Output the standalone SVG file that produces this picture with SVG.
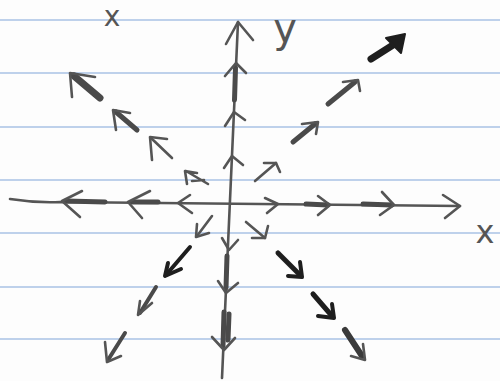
<svg xmlns="http://www.w3.org/2000/svg" width="500" height="381" viewBox="0 0 500 381">
<style>
.rule{stroke:#a8c2e4;stroke-width:1.6}
.pen{fill:none;stroke:#555;stroke-width:2.6;stroke-linecap:round;stroke-linejoin:round}
.thick{fill:none;stroke:#4a4a4a;stroke-width:5;stroke-linecap:round}
.ink{fill:none;stroke:#1e1e1e;stroke-width:4;stroke-linecap:round;stroke-linejoin:round}
.inkthick{fill:none;stroke:#1e1e1e;stroke-width:7;stroke-linecap:round}
.lbl{font-family:"DejaVu Sans",sans-serif;fill:#555;text-anchor:middle}
</style>
<rect width="500" height="381" fill="#fdfdfd"/>
<g id="paper">
<line class="rule" x1="0" y1="20" x2="500" y2="20"/>
<line class="rule" x1="0" y1="73" x2="500" y2="73"/>
<line class="rule" x1="0" y1="127" x2="500" y2="127"/>
<line class="rule" x1="0" y1="180" x2="500" y2="180"/>
<line class="rule" x1="0" y1="233" x2="500" y2="233"/>
<line class="rule" x1="0" y1="287" x2="500" y2="287"/>
<line class="rule" x1="0" y1="339" x2="500" y2="339"/>
</g>
<g id="x-axis">
<path class="pen" d="M10,199 Q35,203 60,202 L460,206"/>
<path class="pen" d="M443,195 L460,206 L445,218"/>
<path class="thick" d="M66,201 L105,202"/>
<path class="pen" d="M82,191 L62,201 L80,217"/>
<path class="thick" d="M132,202 L158,202"/>
<path class="pen" d="M150,191 L128,202 L142,218"/>
<path class="pen" d="M190,195 L178,203 L192,213"/>
<path class="pen" d="M265,198 L278,204 L267,213"/>
<path class="thick" d="M306,204 L328,205"/>
<path class="pen" d="M318,196 L330,205 L318,215"/>
<path class="thick" d="M363,204 L392,205"/>
<path class="pen" d="M382,192 L394,205 L380,215"/>
</g>
<g id="y-axis">
<path class="pen" d="M238,22 L222,378"/>
<path class="pen" d="M226,44 L238,22 L253,40"/>
<path class="thick" d="M235.5,68 L234.5,100"/>
<path class="pen" d="M225,76 L236,63 L246,73"/>
<path class="pen" d="M225,126 L234,112 L245,120"/>
<path class="pen" d="M224,168 L232,156 L243,165"/>
<path class="pen" d="M222,238 L229,250 L238,240"/>
<path class="thick" d="M227,256 L226,288"/>
<path class="pen" d="M218,281 L226,293 L238,283"/>
<path class="thick" d="M224,312 L223,346"/>
<path class="thick" d="M229,314 L228,340"/>
<path class="pen" d="M212,337 L224,350 L235,338"/>
</g>
<g id="upper-left">
<path class="thick" style="stroke-width:7" d="M100,98 L74,76"/>
<path class="pen" d="M72,97 L70,73 L95,77"/>
<path class="thick" d="M137,130 L116,112"/>
<path class="pen" d="M116,130 L113,110 L130,113"/>
<path class="pen" d="M172,158 L151,138"/>
<path class="pen" d="M152,160 L150,137 L167,139"/>
<path class="pen" d="M208,184 L186,171 M187,184 L185,171 L197,173 M192,181 L204,180"/>
</g>
<g id="upper-right">
<path class="pen" d="M255,181 L276,163"/>
<path class="pen" d="M264,163 L276,163 L280,172"/>
<path class="thick" d="M293,142 L315,124"/>
<path class="pen" d="M302,124 L318,122 L316,134"/>
<path class="thick" d="M328,104 L355,82"/>
<path class="pen" d="M343,82 L358,80 L360,91"/>
<path class="inkthick" d="M371,59 L393,45"/>
<path fill="#1e1e1e" stroke="#1e1e1e" stroke-width="2" stroke-linejoin="round" d="M386,38 L405,34 L401,53 Z"/>
</g>
<g id="lower-left">
<path class="pen" d="M212,216 L197,236"/>
<path class="pen" d="M197,224 L196,237 L209,233"/>
<path class="ink" d="M190,247 L166,275"/>
<path class="ink" d="M168,263 L165,276 L181,269"/>
<path class="thick" style="stroke-width:4" d="M156,287 L140,313"/>
<path class="pen" d="M140,301 L138,315 L152,303"/>
<path class="thick" style="stroke-width:4" d="M125,333 L108,360"/>
<path class="pen" d="M105,342 L107,362 L121,356"/>
</g>
<g id="lower-right">
<path class="pen" d="M246,222 L265,238"/>
<path class="pen" d="M252,238 L265,238 L268,226"/>
<path class="ink" style="stroke-width:5" d="M278,253 L300,275"/>
<path class="ink" d="M288,276 L302,277 L300,262"/>
<path class="ink" style="stroke-width:5" d="M313,294 L332,316"/>
<path class="ink" d="M318,316 L334,318 L332,304"/>
<path class="thick" style="stroke:#3a3a3a;stroke-width:6" d="M345,330 L362,356"/>
<path class="pen" d="M351,356 L365,360 L363,344"/>
</g>
<g id="labels">
<text class="lbl" x="112" y="26" font-size="28">x</text>
<text class="lbl" x="285" y="42" font-size="40">y</text>
<text class="lbl" x="485" y="243" font-size="32">x</text>
</g>
</svg>
